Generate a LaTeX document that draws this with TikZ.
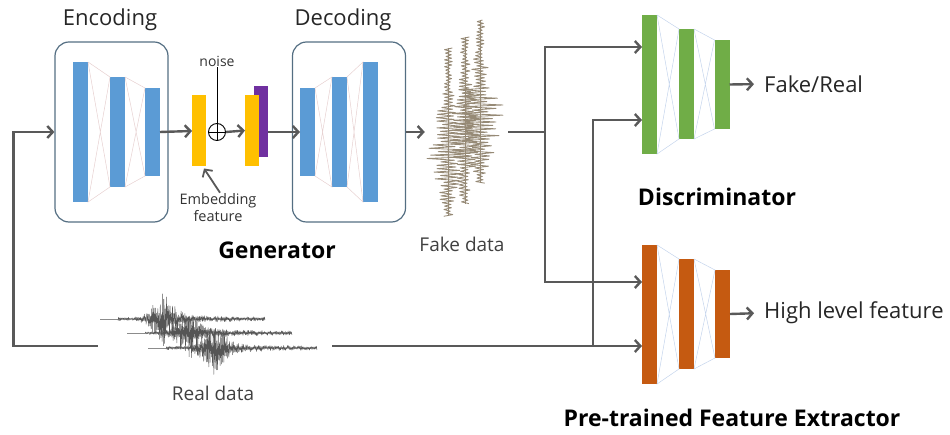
\documentclass[tikz,border=0pt]{standalone}
\usepackage{fontspec}
\setmainfont{Open Sans}
\usepackage{tikz}
\usetikzlibrary{arrows.meta}
\definecolor{encblue}{RGB}{91,155,213}
\definecolor{embyellow}{RGB}{255,192,0}
\definecolor{noisepurple}{RGB}{112,48,160}
\definecolor{discgreen}{RGB}{112,173,71}
\definecolor{featorange}{RGB}{197,90,17}
\definecolor{boxframe}{RGB}{84,110,130}
\definecolor{flowgray}{RGB}{89,89,89}
\definecolor{linkred}{RGB}{230,208,208}
\definecolor{linkblue}{RGB}{196,212,236}
\definecolor{fakewave}{RGB}{150,138,118}
\definecolor{realwave}{RGB}{85,85,85}

\begin{document}
\begin{tikzpicture}[x=1pt, y=-1pt,
    netbar/.style={rectangle, inner sep=0pt, outer sep=0pt, minimum width=15pt},
    block/.style={draw=boxframe, line width=1.2pt, rounded corners=14pt, minimum width=113pt, minimum height=180pt},
    flowline/.style={draw=flowgray, line width=2.4pt},
    flow/.style={flowline, -{Straight Barb[length=5.5pt,width=12pt]}},
    link/.style={line width=0.5pt},
    lbl/.style={font=\fontsize{22}{26}\selectfont, text=black!85, inner sep=1pt},
    smalllbl/.style={font=\fontsize{19}{22}\selectfont, text=black!75, inner sep=1pt},
    heading/.style={font=\bfseries\fontsize{23}{27}\selectfont, inner sep=1pt}]
    \useasboundingbox (0,0) rectangle (950,435);

    % draw generator frames
    \node[block] (enc) at (111.5,132) {};
    \node[block] (dec) at (349,132) {};
    \node[lbl] (enclbl) at (110,20) {Encoding};
    \node[lbl] (declbl) at (343,20) {Decoding};

    % draw encoder and decoder layers
    \node[netbar, fill=encblue, minimum height=140pt] (eb1) at (80.5,132) {};
    \node[netbar, fill=encblue, minimum height=110pt] (eb2) at (117.5,132) {};
    \node[netbar, fill=encblue, minimum height=88pt] (eb3) at (152.5,132) {};
    \node[netbar, fill=encblue, minimum height=88pt] (db1) at (307.5,132) {};
    \node[netbar, fill=encblue, minimum height=110pt] (db2) at (339.5,132) {};
    \node[netbar, fill=encblue, minimum height=140pt] (db3) at (370.5,132) {};

    % draw embedding, noise and concatenation
    \node[netbar, fill=embyellow, minimum width=14pt, minimum height=71pt] (emb1) at (199,131) {};
    \node[draw, circle, line width=0.9pt, minimum size=17pt, inner sep=0pt,
        path picture={\draw[line width=0.9pt] (path picture bounding box.north) -- (path picture bounding box.south)
            (path picture bounding box.west) -- (path picture bounding box.east);}] (plus) at (217,132) {};
    \node[netbar, fill=noisepurple, minimum width=14pt, minimum height=71pt] (cat2) at (261,121.5) {};
    \node[netbar, fill=embyellow, minimum width=14pt, minimum height=71pt] (cat1) at (252,130.5) {};
    \node[font=\fontsize{14}{16}\selectfont, text=black!80, inner sep=1pt] (noise) at (217,61) {noise};
    \node[font=\fontsize{14.5}{17}\selectfont, text=black!80, align=center, inner sep=1pt] (emblbl) at (218,208) {Embedding\\feature};
    \node[heading] (genlbl) at (277,250) {Generator};

    % draw discriminator and feature extractor layers
    \node[netbar, fill=discgreen, minimum height=139pt] (g1) at (649.5,84.5) {};
    \node[netbar, fill=discgreen, minimum height=110pt] (g2) at (686.5,84) {};
    \node[netbar, fill=discgreen, minimum height=89pt] (g3) at (722,84.5) {};
    \node[netbar, fill=featorange, minimum height=139pt] (o1) at (649.5,314.5) {};
    \node[netbar, fill=featorange, minimum height=110pt] (o2) at (686.5,314) {};
    \node[netbar, fill=featorange, minimum height=88pt] (o3) at (722.5,314) {};
    \node[heading] (disclbl) at (717,197) {Discriminator};
    \node[heading] (extlbl) at (732,418) {Pre-trained Feature Extractor};
    \node[lbl, anchor=west] (fakereal) at (763,84) {Fake/Real};
    \node[lbl, anchor=west] (highlvl) at (763,313) {High level feature};

    % draw links between layers
    \foreach \a/\b/\c in {eb1/eb2/linkred, eb2/eb3/linkred, db1/db2/linkred, db2/db3/linkred,
                          g1/g2/linkblue, g2/g3/linkblue, o1/o2/linkblue, o2/o3/linkblue}
        \draw[link, \c] (\a.north east) -- (\b.north west) -- (\a.south east) -- (\b.south west) -- (\a.north east);

    % draw fake data
    \node[minimum width=84pt, minimum height=200pt] (fake) at (467,132) {};
    \node[smalllbl] (fakelbl) at (462,244) {Fake data};
    \pgfmathsetseed{11}
    \foreach \xc/\yt/\n/\yp/\amp in {448/48/99/150/18, 465/37/98/132/14, 480/20/96/118/21} {
        \draw[fakewave, line width=0.4pt] (\xc,\yt) -- (\xc,\yt+1.7*\n);
        \draw[fakewave, line width=0.85pt, line join=round]
            plot[domain=0:\n, samples=\n+1]
            ({\xc + (1-2*mod(round(\x),2))*(4.5 + \amp*exp(-(\yt+1.7*\x-\yp)*(\yt+1.7*\x-\yp)/1500))*(0.3+0.7*rnd)}, {\yt+1.7*\x});
    }

    % draw real data
    \node[minimum width=234pt, minimum height=60pt] (real) at (215,346) {};
    \node[smalllbl] (reallbl) at (213,393) {Real data};
    \foreach \yo/\xs/\xb/\xe in {319/100/162/265, 333/127/187/292, 348/148/212/317} {
        \pgfmathsetmacro\dx{(\xe-\xs-18)/240}
        \draw[black!45, line width=0.4pt] (\xs,\yo) -- (\xs+18,\yo);
        \draw[realwave, line width=0.45pt, line join=round]
            plot[domain=0:240, samples=241] ({\xs+18+\x*\dx},
            {\yo + (1-2*mod(round(\x),2))*(1.8 + 20*exp(-(\xs+18+\x*\dx-\xb)*(\xs+18+\x*\dx-\xb)/180)
              + 6*(\xs+18+\x*\dx>\xb)*exp(-(\xs+18+\x*\dx-\xb)/35))*(0.2+0.8*rnd)});
    }

    % draw data flow
    \coordinate (fsplit) at (545,132);
    \coordinate (rsplit) at (593,346);
    \draw[flow] (real.west) -| ([xshift=-41pt]enc.west) -- (enc.west);
    \draw[flow] (eb3.east) -- (emb1.west);
    \draw[line width=0.9pt] (noise.south) -- (plus.north);
    \draw[flow] (plus.east) -- (cat1.west);
    \draw[flow] (cat2.east |- db1.west) -- (db1.west);
    \draw[flow, line width=1.8pt] ([xshift=2pt]emblbl.north) -- ([xshift=-2pt,yshift=-2pt]emb1.south east);
    \draw[flow] (dec.east) -- (fake.west);
    \draw[flowline, line cap=rect] (fake.east) -- (fsplit);
    \draw[flow] (fsplit) |- ([yshift=37.5pt]g1.west);
    \draw[flow] (fsplit) |- ([yshift=32.5pt]o1.west);
    \draw[flow] (real.east) -- (o1.west |- real.east);
    \draw[flow] (rsplit) |- ([yshift=-35.5pt]g1.west);
    \draw[flow, shorten >=9pt] (g3.east) -- (fakereal.west);
    \draw[flow, shorten >=9pt] (o3.east) -- (highlvl.west);
\end{tikzpicture}
\end{document}
